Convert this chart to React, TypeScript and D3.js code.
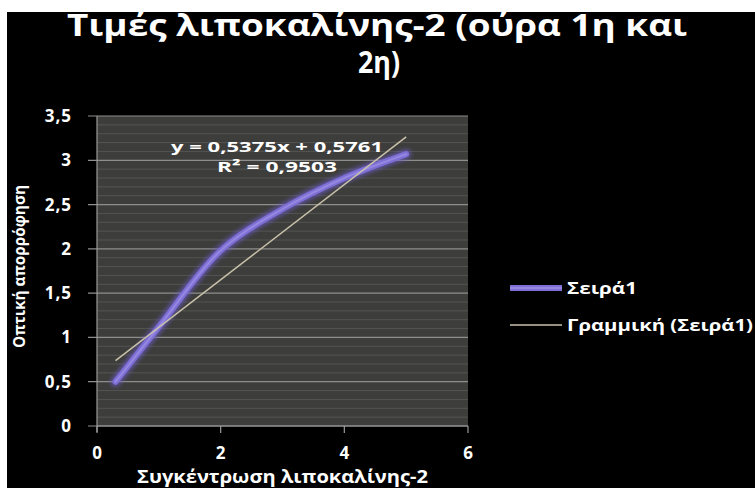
import React from "react";
import * as d3 from "d3";

const concentrations = [0.3, 1, 2, 3, 4, 5];
const absorbance = [0.5, 1.12, 1.98, 2.45, 2.8, 3.07];
const trendSlope = 0.5375;
const trendIntercept = 0.5761;
const yTicks = [0, 0.5, 1, 1.5, 2, 2.5, 3, 3.5];
const xTicks = [0, 2, 4, 6];
const titleLines = ["Τιμές λιποκαλίνης-2 (ούρα 1η και", "2η)"];
const xTitle = "Συγκέντρωση λιποκαλίνης-2";
const yTitle = "Οπτική απορρόφηση";
const seriesName = "Σειρά1";
const trendName = "Γραμμική (Σειρά1)";
const equationLines = ["y = 0,5375x + 0,5761", "R² = 0,9503"];

const W = 755;
const H = 488;
const plot = { left: 97, right: 468, top: 116, bottom: 426 };
const FONT = "'Open Sans', 'DejaVu Sans', sans-serif";

export default function App() {
  const x = d3.scaleLinear().domain([0, 6]).range([plot.left, plot.right]);
  const y = d3.scaleLinear().domain([0, 3.5]).range([plot.bottom, plot.top]);
  const fmt = (v: number) => String(v).replace(".", ",");

  const pts: [number, number][] = concentrations.map((c, i) => [c, absorbance[i]]);
  const line = d3
    .line<[number, number]>()
    .x((d) => x(d[0]))
    .y((d) => y(d[1]))
    .curve(d3.curveCatmullRom.alpha(0.5));
  const seriesPath = line(pts) || "";

  const xMin = d3.min(concentrations) as number;
  const xMax = d3.max(concentrations) as number;
  const trendPts: [number, number][] = [
    [xMin, trendSlope * xMin + trendIntercept],
    [xMax, trendSlope * xMax + trendIntercept],
  ];
  const trendPath = d3.line<[number, number]>().x((d) => x(d[0])).y((d) => y(d[1]))(trendPts) || "";

  const minorTicks = d3.range(0, 3.5001, 0.1).filter((v) => Math.abs(v * 2 - Math.round(v * 2)) > 1e-6);

  return (
    <svg width={W} height={H} style={{ position: "absolute", left: 0, top: 0 }} fontFamily={FONT}>
      <defs>
        <filter id="glow" x="-10%" y="-10%" width="120%" height="120%">
          <feGaussianBlur stdDeviation="2.2" />
        </filter>
      </defs>
      <rect x={0} y={0} width={W} height={H} fill="#ffffff" />
      <rect x={7} y={12} width={W - 7} height={H - 12} fill="#000000" />

      {/* Title */}
      <text x={377} y={36} fill="#ffffff" fontSize={30} fontWeight="bold" textAnchor="middle" textLength={620} lengthAdjust="spacingAndGlyphs">
        {titleLines[0]}
      </text>
      <text x={379} y={73} fill="#ffffff" fontSize={30} fontWeight="bold" textAnchor="middle" textLength={42} lengthAdjust="spacingAndGlyphs">
        {titleLines[1]}
      </text>

      {/* Plot area */}
      <rect x={plot.left} y={plot.top} width={plot.right - plot.left} height={plot.bottom - plot.top} fill="#3d3d3b" />
      {minorTicks.map((v) => (
        <line key={"m" + v} x1={plot.left} x2={plot.right} y1={y(v)} y2={y(v)} stroke="#545452" strokeWidth={1} />
      ))}
      {yTicks.map((v) => (
        <line key={"g" + v} x1={plot.left - 9} x2={plot.right} y1={y(v)} y2={y(v)} stroke="#8e8e8c" strokeWidth={1.2} />
      ))}
      {/* axes */}
      <line x1={plot.left} x2={plot.left} y1={plot.top} y2={plot.bottom + 6} stroke="#9a9a9a" strokeWidth={1.2} />
      <line x1={plot.left} x2={plot.right} y1={plot.bottom} y2={plot.bottom} stroke="#9a9a9a" strokeWidth={1.2} />
      {xTicks.map((v) => (
        <line key={"xt" + v} x1={x(v)} x2={x(v)} y1={plot.bottom} y2={plot.bottom + 7} stroke="#9a9a9a" strokeWidth={1.2} />
      ))}

      {/* Y tick labels */}
      {yTicks.map((v) => (
        <text key={"yl" + v} x={72} y={y(v) + 6} fill="#ffffff" fontSize={17} fontWeight="bold" textAnchor="end" letterSpacing={1}>
          {fmt(v)}
        </text>
      ))}
      {/* X tick labels */}
      {xTicks.map((v) => (
        <text key={"xl" + v} x={x(v)} y={459} fill="#ffffff" fontSize={17} fontWeight="bold" textAnchor="middle">
          {fmt(v)}
        </text>
      ))}

      {/* Axis titles */}
      <text x={(plot.left + plot.right) / 2} y={483} fill="#ffffff" fontSize={17} fontWeight="bold" textAnchor="middle" textLength={291} lengthAdjust="spacingAndGlyphs">
        {xTitle}
      </text>
      <text transform={`translate(25, ${(185 + 348) / 2}) rotate(-90)`} fill="#ffffff" fontSize={16} fontWeight="bold" textAnchor="middle" textLength={163} lengthAdjust="spacingAndGlyphs">
        {yTitle}
      </text>

      {/* Series */}
      <path d={seriesPath} fill="none" stroke="#6c5cc8" strokeWidth={10} strokeLinecap="round" opacity={0.7} filter="url(#glow)" />
      <path d={seriesPath} fill="none" stroke="#7e6fd6" strokeWidth={6} strokeLinecap="round" />
      <path d={seriesPath} fill="none" stroke="#9c8fe4" strokeWidth={2} strokeLinecap="round" opacity={0.8} />
      <path d={trendPath} fill="none" stroke="#c9c2aa" strokeWidth={1.5} />

      {/* Equation */}
      <text x={277} y={152} fill="#ffffff" fontSize={15} fontWeight="bold" textAnchor="middle" textLength={212} lengthAdjust="spacingAndGlyphs">
        {equationLines[0]}
      </text>
      <text x={277} y={172} fill="#ffffff" fontSize={15} fontWeight="bold" textAnchor="middle" textLength={120} lengthAdjust="spacingAndGlyphs">
        {equationLines[1]}
      </text>

      {/* Legend */}
      <line x1={510} x2={562} y1={288} y2={288} stroke="#6c5cc8" strokeWidth={10} opacity={0.7} filter="url(#glow)" />
      <line x1={510} x2={562} y1={288} y2={288} stroke="#7e6fd6" strokeWidth={6} />
      <line x1={510} x2={562} y1={288} y2={288} stroke="#9c8fe4" strokeWidth={2} opacity={0.8} />
      <text x={567} y={294} fill="#ffffff" fontSize={16} fontWeight="bold" textLength={70} lengthAdjust="spacingAndGlyphs">
        {seriesName}
      </text>
      <line x1={510} x2={562} y1={325} y2={325} stroke="#c9c2aa" strokeWidth={1.5} />
      <text x={567} y={331} fill="#ffffff" fontSize={16} fontWeight="bold" textLength={186} lengthAdjust="spacingAndGlyphs">
        {trendName}
      </text>
    </svg>
  );
}
